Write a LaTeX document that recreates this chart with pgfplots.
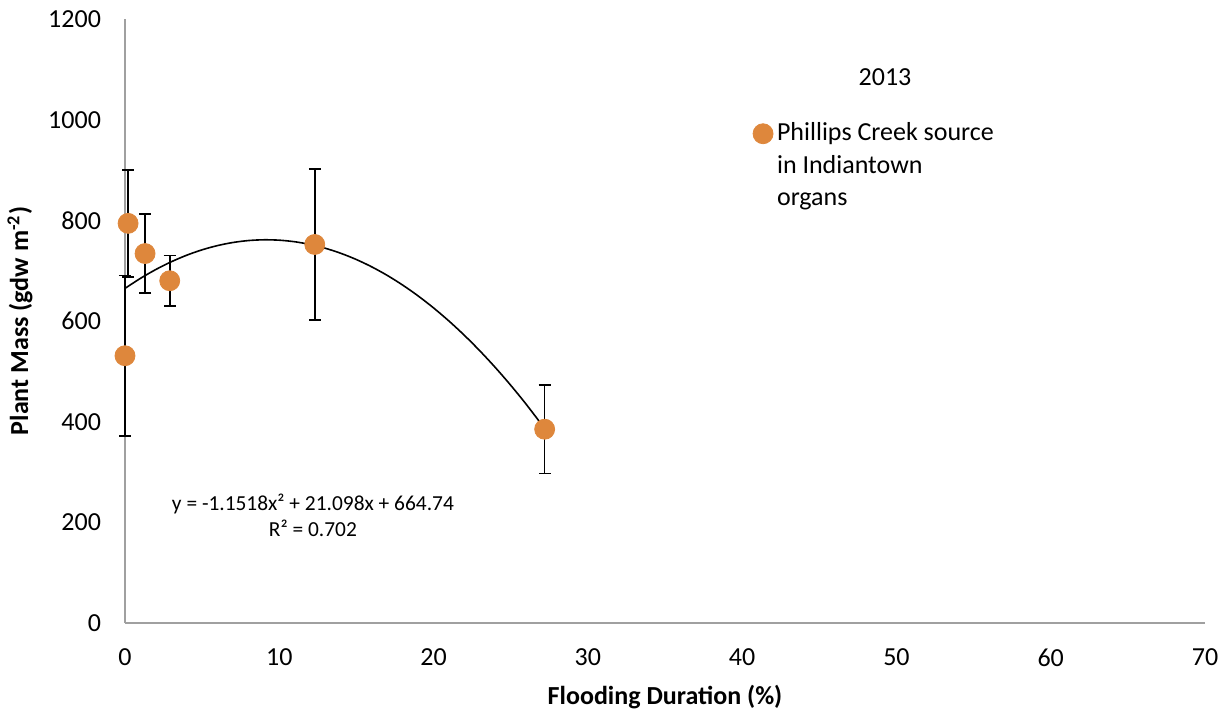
\documentclass[border=0pt]{standalone}
\usepackage{fontspec}
\setmainfont{Carlito}
\usepackage{pgfplots}
\pgfplotsset{compat=1.18}
\definecolor{markorange}{RGB}{222,135,60}
\definecolor{axisgray}{RGB}{160,160,160}

\begin{document}
\begin{tikzpicture}
\useasboundingbox (-62.5pt,-44.5pt) rectangle (551pt,311.5pt);
\begin{axis}[
  at={(0pt,0pt)}, anchor=south west,
  scale only axis, width=540pt, height=302pt,
  xmin=0, xmax=70, ymin=0, ymax=1200,
  xtick={0,10,...,70}, ytick={0,200,...,1200},
  axis x line=bottom, axis y line=left,
  axis line style={-, draw=axisgray, line width=0.75pt},
  major tick length=0pt,
  tick label style={font=\fontsize{13}{15}\selectfont},
  /pgf/number format/assume math mode=true,
  /pgf/number format/1000 sep={},
  yticklabel style={anchor=east, xshift=-8.5pt},
  xticklabel style={anchor=north, yshift=-9.5pt},
  every axis x label/.style={at={(axis description cs:0.5,-0.1225)}, anchor=center,
    font=\fontsize{13}{15}\selectfont\bfseries},
  every axis y label/.style={at={(axis description cs:-0.0972,0.5)}, anchor=center, rotate=90,
    font=\fontsize{13}{15}\selectfont\bfseries},
  xlabel={Flooding Duration (\%)},
  ylabel={Plant Mass (gdw m\textsuperscript{-2})},
  legend style={at={(axis description cs:0.5756,0.850)}, anchor=north west, draw=none, fill=none,
    font=\fontsize{13}{16.25}\selectfont, nodes={anchor=base west}},
  legend image code/.code={\draw[#1] plot coordinates {(3pt,3.5pt)};},
  clip=false,
]
% plant mass with standard error
\addplot[only marks, mark=*, mark size=5pt, mark options={fill=markorange, draw=markorange},
  error bars/.cd, y dir=both, y explicit,
  error bar style={black, line width=0.8pt},
  error mark options={rotate=90, mark size=3pt, black, line width=0.8pt}]
  table[x=x, y=y, y error=err] {
x     y    err
0.2   794  106
1.3   734  78
2.9   680  50
0.0   531  159
12.3  752  150
27.2  385  88
};
\addlegendentry{\begin{tabular}[t]{@{}l@{}}Phillips Creek source\\in Indiantown\\organs\end{tabular}}

% polynomial trendline y = -1.1518x^2 + 21.098x + 664.74
\addplot[black, line width=0.8pt, smooth, forget plot] coordinates {
(0,664.74) (1,684.69) (2,702.33) (3,717.67) (4,730.70) (5,741.44) (6,749.86)
(7,755.99) (8,759.81) (9,761.33) (10,760.54) (11,757.45) (12,752.06) (13,744.36)
(14,734.36) (15,722.06) (16,707.45) (17,690.54) (18,671.32) (19,649.80) (20,625.98)
(21,599.85) (22,571.43) (23,540.69) (24,507.66) (25,472.32) (26,434.67) (27.22,385.63)
};

\node[font=\fontsize{13}{15}\selectfont] at (axis description cs:0.7037,0.904) {2013};
\node[font=\fontsize{10.7}{13}\selectfont, align=center] at (axis description cs:0.174,0.179)
  {y = -1.1518x² + 21.098x + 664.74\\R² = 0.702};
\end{axis}
\end{tikzpicture}
\end{document}
